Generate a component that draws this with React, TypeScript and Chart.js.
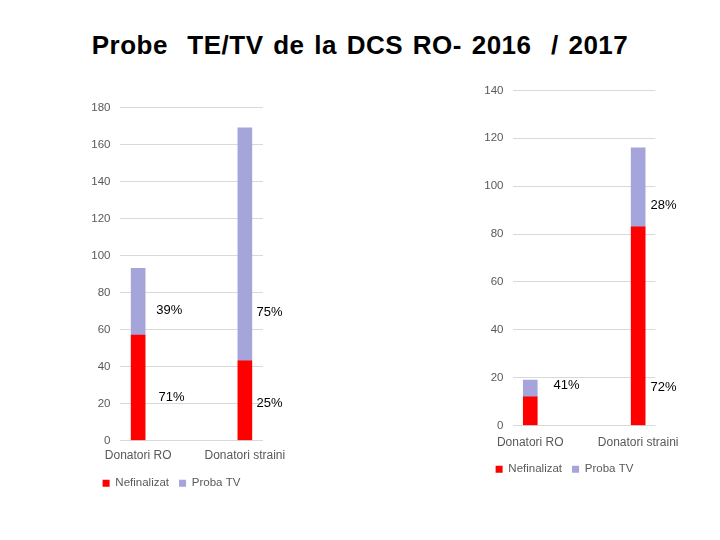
import React, { useEffect, useRef } from "react";
import { Chart, registerables } from "chart.js";

Chart.register(...registerables);
Chart.defaults.font.family = "'Liberation Sans', Arial, sans-serif";

const title = "Probe  TE/TV de la DCS RO- 2016  / 2017";
const categories = ["Donatori RO", "Donatori straini"];
const seriesNames = ["Nefinalizat", "Proba TV"];

const nefinalizat2016 = [57, 43];
const probaTV2016 = [36, 126];
const yMax2016 = 180;
const yStep2016 = 20;
const pctText2016 = ["39%", "75%", "71%", "25%"];
const pctAtX2016 = [0.17, 1.11, 0.19, 1.11];
const pctAtY2016 = [70.2, 69.1, 23.4, 20.0];

const nefinalizat2017 = [12, 83];
const probaTV2017 = [7, 33];
const yMax2017 = 140;
const yStep2017 = 20;
const pctText2017 = ["28%", "41%", "72%"];
const pctAtX2017 = [1.115, 0.215, 1.115];
const pctAtY2017 = [91.9, 16.7, 16.0];

const RED = "#FF0000";
const LAV = "#A5A5DC";
const GRAY = "#595959";

type PanelProps = {
  left: number;
  top: number;
  width: number;
  height: number;
  nef: number[];
  tv: number[];
  yMax: number;
  yStep: number;
  xMin: number;
  xMax: number;
  padRight: number;
  xPad: number;
  xHeight: number;
  pctText: string[];
  pctX: number[];
  pctY: number[];
};

function Panel(p: PanelProps) {
  const ref = useRef<HTMLCanvasElement | null>(null);
  useEffect(() => {
    if (!ref.current) return;
    const pctPlugin = {
      id: "pctLabels",
      afterDraw(chart: any) {
        const ctx = chart.ctx;
        const xs = chart.scales.x;
        const ys = chart.scales.y;
        ctx.save();
        ctx.fillStyle = "#000000";
        ctx.font = "13px 'Liberation Sans', Arial, sans-serif";
        ctx.textAlign = "left";
        ctx.textBaseline = "middle";
        p.pctText.forEach((t, i) => {
          ctx.fillText(t, xs.getPixelForValue(p.pctX[i]), ys.getPixelForValue(p.pctY[i]));
        });
        ctx.restore();
      },
    };
    const chart = new Chart(ref.current, {
      type: "bar",
      data: {
        datasets: [
          {
            label: seriesNames[0],
            data: p.nef.map((v, i) => ({ x: i, y: v })),
            backgroundColor: RED,
            barThickness: 14,
          },
          {
            label: seriesNames[1],
            data: p.tv.map((v, i) => ({ x: i, y: v })),
            backgroundColor: LAV,
            barThickness: 14,
          },
        ],
      },
      options: {
        animation: false,
        responsive: false,
        maintainAspectRatio: false,
        layout: { padding: { top: 0, right: p.padRight, left: 0, bottom: 0 } },
        scales: {
          x: {
            type: "linear",
            stacked: true,
            offset: false,
            min: p.xMin,
            max: p.xMax,
            grid: { display: false, drawTicks: false, offset: false },
            border: { display: false },
            ticks: {
              stepSize: 1,
              includeBounds: false,
              autoSkip: false,
              maxRotation: 0,
              padding: p.xPad,
              color: GRAY,
              font: { size: 12 },
              callback: (v: any) => (Number.isInteger(v) ? categories[v] ?? "" : ""),
            },
            afterFit: (s: any) => {
              s.height = p.xHeight;
            },
          },
          y: {
            stacked: true,
            min: 0,
            max: p.yMax,
            grid: { color: "#D9D9D9", drawTicks: false },
            border: { display: false },
            ticks: { stepSize: p.yStep, padding: 9.5, color: GRAY, font: { size: 11.5 } },
            afterFit: (s: any) => {
              s.width = 40;
            },
          },
        },
        plugins: {
          legend: {
            position: "bottom",
            labels: {
              boxWidth: 7,
              boxHeight: 7,
              padding: 10,
              color: GRAY,
              font: { size: 11.5 },
            },
          },
          tooltip: { enabled: false },
        },
      } as any,
      plugins: [pctPlugin],
    });
    return () => chart.destroy();
  }, []);
  return (
    <canvas
      ref={ref}
      width={p.width}
      height={p.height}
      style={{ position: "absolute", left: p.left, top: p.top, width: p.width, height: p.height }}
    />
  );
}

export default function App() {
  return (
    <div style={{ position: "absolute", left: 0, top: 0, width: 720, height: 540, background: "#fff" }}>
      <div
        style={{
          position: "absolute",
          left: 0,
          top: 32,
          width: 720,
          textAlign: "center",
          fontFamily: "'Liberation Sans', Arial, sans-serif",
          fontWeight: "bold",
          fontSize: 26,
          lineHeight: "26px",
          whiteSpace: "pre",
          letterSpacing: "0.5px",
          wordSpacing: "2px",
          color: "#000",
        }}
      >
        {title}
      </div>
      <Panel
        left={80}
        top={91}
        width={223}
        height={408}
        nef={nefinalizat2016}
        tv={probaTV2016}
        yMax={yMax2016}
        yStep={yStep2016}
        xMin={-0.17}
        xMax={1.17}
        padRight={40}
        xPad={8}
        xHeight={27}
        pctText={pctText2016}
        pctX={pctAtX2016}
        pctY={pctAtY2016}
      />
      <Panel
        left={473}
        top={74}
        width={220}
        height={411}
        nef={nefinalizat2017}
        tv={probaTV2017}
        yMax={yMax2017}
        yStep={yStep2017}
        xMin={-0.16}
        xMax={1.16}
        padRight={37}
        xPad={10}
        xHeight={28}
        pctText={pctText2017}
        pctX={pctAtX2017}
        pctY={pctAtY2017}
      />
    </div>
  );
}
